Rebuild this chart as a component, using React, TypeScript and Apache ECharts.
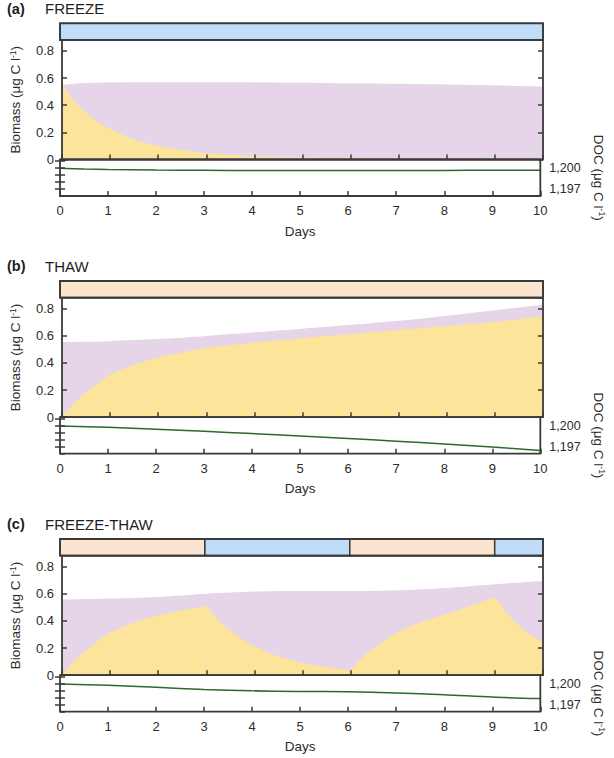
import React, { useEffect, useRef } from "react";
import * as echarts from "echarts";

// ---------- data ----------
const panelLetters = ["(a)", "(b)", "(c)"];
const panelTitles = ["FREEZE", "THAW", "FREEZE-THAW"];
const dayTicks = [0, 1, 2, 3, 4, 5, 6, 7, 8, 9, 10];
const biomassTicks = [0, 0.2, 0.4, 0.6, 0.8];
const docLabelTicks = [1200, 1197];
const phaseNames = ["freeze", "thaw"];

// phases: [start day, end day, phase index]
const freezePhases = [[0, 10, 0]];
const thawPhases = [[0, 10, 1]];
const freezeThawPhases = [
  [0, 3, 1],
  [3, 6, 0],
  [6, 9, 1],
  [9, 10, 0],
];

// (a) FREEZE
const freezeActiveDays = [0, 0.25, 0.5, 0.75, 1, 1.5, 2, 2.5, 3, 4, 5, 6, 7, 8, 9, 10];
const freezeActive = [0.55, 0.43, 0.345, 0.275, 0.222, 0.146, 0.097, 0.066, 0.044, 0.02, 0.01, 0.006, 0.004, 0.003, 0.002, 0.002];
const freezeTotalDays = [0, 0.25, 0.5, 1, 2, 3, 4, 5, 6, 7, 8, 9, 10];
const freezeTotal = [0.55, 0.558, 0.563, 0.567, 0.569, 0.568, 0.567, 0.565, 0.561, 0.557, 0.552, 0.546, 0.538];
const freezeDocDays = [0, 0.5, 1, 2, 3, 4, 5, 6, 7, 8, 9, 10];
const freezeDoc = [1200.0, 1199.88, 1199.8, 1199.73, 1199.69, 1199.67, 1199.66, 1199.66, 1199.67, 1199.68, 1199.7, 1199.72];

// (b) THAW
const thawActiveDays = [0, 0.25, 0.5, 0.75, 1, 1.5, 2, 2.5, 3, 4, 5, 6, 7, 8, 9, 10];
const thawActive = [0.0, 0.1, 0.18, 0.25, 0.31, 0.385, 0.437, 0.475, 0.506, 0.546, 0.58, 0.61, 0.64, 0.67, 0.7, 0.74];
const thawTotalDays = [0, 0.5, 1, 2, 3, 4, 5, 6, 7, 8, 9, 10];
const thawTotal = [0.553, 0.555, 0.56, 0.575, 0.598, 0.625, 0.652, 0.68, 0.71, 0.748, 0.788, 0.828];
const thawDocDays = [0, 1, 2, 3, 4, 5, 6, 7, 8, 9, 10];
const thawDoc = [1199.98, 1199.8, 1199.52, 1199.22, 1198.9, 1198.55, 1198.2, 1197.8, 1197.4, 1196.95, 1196.45];

// (c) FREEZE-THAW
const ftActiveDays = [0, 0.25, 0.5, 0.75, 1, 1.5, 2, 2.5, 3, 3.25, 3.5, 3.75, 4, 4.5, 5, 5.5, 6, 6.25, 6.5, 6.75, 7, 7.5, 8, 8.5, 9, 9.25, 9.5, 9.75, 10];
const ftActive = [0, 0.1, 0.18, 0.25, 0.31, 0.385, 0.437, 0.475, 0.507, 0.405, 0.325, 0.262, 0.21, 0.135, 0.087, 0.056, 0.032, 0.13, 0.2, 0.265, 0.318, 0.392, 0.448, 0.51, 0.572, 0.455, 0.365, 0.295, 0.24];
const ftTotalDays = [0, 1, 2, 3, 4, 5, 6, 7, 8, 9, 10];
const ftTotal = [0.556, 0.564, 0.576, 0.6, 0.616, 0.62, 0.62, 0.626, 0.643, 0.67, 0.693];
const ftDocDays = [0, 1, 2, 3, 4, 5, 6, 7, 8, 9, 10];
const ftDoc = [1200.0, 1199.8, 1199.5, 1199.2, 1199.0, 1198.9, 1198.87, 1198.7, 1198.45, 1198.1, 1197.9];

// ---------- styling ----------
const FONT = "'Liberation Sans', Arial, Helvetica, sans-serif";
const INK = "#2b2b2b";
const BORDER = "#3a3a3a";
const PURPLE = "#E6D5E8";
const YELLOW = "#FDE49B";
const BLUE = "#BFDCF8";
const PEACH = "#FDE4CE";
const GREEN = "#2E6A2E";
const PHASE_COLORS: Record<string, string> = { freeze: BLUE, thaw: PEACH };

const panelTops = [0, 257.7, 515.7];
const LEFT = 60;
const RIGHT = 71;
const STRIP_TOP = 23.3;
const STRIP_H = 16.7;
const BIO_H = 119.5;
const DOC_H = 36.5;
const DOC_MIN = 1196;
const DOC_MAX = 1201.25;
const BIO_MAX = 0.88;

const zip = (xs: number[], ys: number[]) => xs.map((x, i) => [x, ys[i]]);

const panels = [
  { phases: freezePhases, activeDays: freezeActiveDays, active: freezeActive, totalDays: freezeTotalDays, total: freezeTotal, docDays: freezeDocDays, doc: freezeDoc },
  { phases: thawPhases, activeDays: thawActiveDays, active: thawActive, totalDays: thawTotalDays, total: thawTotal, docDays: thawDocDays, doc: thawDoc },
  { phases: freezeThawPhases, activeDays: ftActiveDays, active: ftActive, totalDays: ftTotalDays, total: ftTotal, docDays: ftDocDays, doc: ftDoc },
];

function buildOption() {
  const grid: any[] = [];
  const xAxis: any[] = [];
  const yAxis: any[] = [];
  const series: any[] = [];
  const graphic: any[] = [];

  const tickStyle = { show: true, inside: true, length: 5, lineStyle: { color: BORDER, width: 1.5 } };
  const gridBase = { left: LEFT, right: RIGHT, show: true, z: 10, borderColor: BORDER, borderWidth: 1.8, backgroundColor: "transparent" };
  const supRich = { s: { fontFamily: FONT, fontSize: 8.5, color: INK, verticalAlign: "top", lineHeight: 15 } };

  panels.forEach((p, i) => {
    const P = panelTops[i];
    const gStrip = grid.length;
    grid.push({ ...gridBase, top: P + STRIP_TOP, height: STRIP_H });
    const gBio = grid.length;
    grid.push({ ...gridBase, top: P + STRIP_TOP + STRIP_H, height: BIO_H });
    const gDoc = grid.length;
    grid.push({ ...gridBase, top: P + STRIP_TOP + STRIP_H + BIO_H, height: DOC_H });

    // strip axes
    const xStrip = xAxis.length;
    xAxis.push({ type: "value", gridIndex: gStrip, min: 0, max: 10, show: false });
    const yStrip = yAxis.length;
    yAxis.push({ type: "value", gridIndex: gStrip, min: 0, max: 1, show: false });

    // biomass axes
    const xBio = xAxis.length;
    xAxis.push({
      type: "value", gridIndex: gBio, min: 0, max: 10, interval: 1, z: 11,
      axisLine: { show: false }, axisTick: tickStyle, axisLabel: { show: false }, splitLine: { show: false },
    });
    const yBio = yAxis.length;
    yAxis.push({
      type: "value", gridIndex: gBio, min: 0, max: BIO_MAX, interval: 0.2, position: "left", z: 11,
      axisLine: { show: false }, axisTick: tickStyle, splitLine: { show: false },
      axisLabel: {
        show: true, margin: 8, fontFamily: FONT, fontSize: 13, color: INK, showMaxLabel: false,
        formatter: (v: number) => {
          const t = biomassTicks.find((b) => Math.abs(b - v) < 1e-6);
          return t === undefined ? "" : t === 0 ? "0" : t.toFixed(1);
        },
      },
      name: "Biomass (μg C l{s|-1})", nameLocation: "middle", nameGap: 39,
      nameTextStyle: { fontFamily: FONT, fontSize: 13.5, color: INK, rich: supRich },
    });
    yAxis.push({
      type: "value", gridIndex: gBio, min: 0, max: BIO_MAX, interval: 0.2, position: "right", z: 11,
      axisLine: { show: false }, axisTick: tickStyle, axisLabel: { show: false }, splitLine: { show: false },
    });

    // DOC axes
    const xDoc = xAxis.length;
    xAxis.push({
      type: "value", gridIndex: gDoc, min: 0, max: 10, interval: 1, z: 11,
      axisLine: { show: false }, axisTick: tickStyle, splitLine: { show: false },
      axisLabel: {
        show: true, margin: 8, fontFamily: FONT, fontSize: 13, color: INK,
        formatter: (v: number) => (dayTicks.includes(v) ? String(v) : ""),
      },
      name: "Days", nameLocation: "middle", nameGap: 28,
      nameTextStyle: { fontFamily: FONT, fontSize: 13.5, color: INK },
    });
    const yDoc = yAxis.length;
    yAxis.push({
      type: "value", gridIndex: gDoc, min: DOC_MIN, max: DOC_MAX, interval: 1, position: "right", z: 11,
      axisLine: { show: false }, axisTick: tickStyle, splitLine: { show: false },
      axisLabel: {
        show: true, margin: 9, fontFamily: FONT, fontSize: 12.5, color: INK, showMaxLabel: false, showMinLabel: false,
        formatter: (v: number) => (docLabelTicks.includes(v) ? v.toLocaleString("en-US") : ""),
      },
      name: "DOC (μg C l{s|-1})", nameLocation: "middle", nameGap: 48, nameRotate: -90,
      nameTextStyle: { fontFamily: FONT, fontSize: 13.5, color: INK, rich: supRich },
    });
    yAxis.push({
      type: "value", gridIndex: gDoc, min: DOC_MIN, max: DOC_MAX, interval: 1, position: "left", z: 11,
      axisLine: { show: false }, axisTick: tickStyle, axisLabel: { show: false }, splitLine: { show: false },
    });

    // strip series
    series.push({
      type: "custom", xAxisIndex: xStrip, yAxisIndex: yStrip, z: 3,
      data: p.phases,
      encode: { x: [0, 1], y: 2 },
      renderItem: (_params: any, api: any) => {
        const s = api.coord([api.value(0), 1]);
        const e = api.coord([api.value(1), 0]);
        return {
          type: "rect",
          shape: { x: s[0], y: s[1], width: e[0] - s[0], height: e[1] - s[1] },
          style: { fill: PHASE_COLORS[phaseNames[api.value(2)]], stroke: BORDER, lineWidth: 1.5 },
        };
      },
    });

    // biomass total (purple)
    series.push({
      type: "line", xAxisIndex: xBio, yAxisIndex: yBio, data: zip(p.totalDays, p.total),
      smooth: 0.3, symbol: "none", lineStyle: { width: 0 }, areaStyle: { color: PURPLE, opacity: 1 }, z: 2,
    });
    // active biomass (yellow), one smooth piece per freeze/thaw phase so the switches stay sharp
    const activePts = zip(p.activeDays, p.active);
    p.phases.forEach((ph) => {
      const seg = activePts.filter((pt) => pt[0] >= ph[0] - 1e-9 && pt[0] <= ph[1] + 1e-9);
      series.push({
        type: "line", xAxisIndex: xBio, yAxisIndex: yBio, data: seg,
        smooth: 0.3, symbol: "none", lineStyle: { width: 0.6, color: YELLOW }, areaStyle: { color: YELLOW, opacity: 1 }, z: 3,
      });
    });
    // DOC line
    series.push({
      type: "line", xAxisIndex: xDoc, yAxisIndex: yDoc, data: zip(p.docDays, p.doc),
      smooth: 0.3, symbol: "none", lineStyle: { width: 1.5, color: GREEN }, z: 3,
    });

    graphic.push({
      type: "text", left: 7, top: P + 1,
      style: { text: panelLetters[i], fontFamily: FONT, fontSize: 14.5, fontWeight: "bold", fill: "#1e1e1e" },
    });
    graphic.push({
      type: "text", left: 45, top: P + 1,
      style: { text: panelTitles[i], fontFamily: FONT, fontSize: 15, fill: "#1e1e1e" },
    });
  });

  return { animation: false, backgroundColor: "#ffffff", grid, xAxis, yAxis, series, graphic };
}

export default function App() {
  const ref = useRef<HTMLDivElement>(null);
  useEffect(() => {
    if (!ref.current) return;
    const chart = echarts.init(ref.current, undefined, { renderer: "svg" });
    chart.setOption(buildOption() as any);
    return () => chart.dispose();
  }, []);
  return <div ref={ref} style={{ position: "fixed", left: 0, top: 0, width: 614, height: 758, background: "#fff" }} />;
}
